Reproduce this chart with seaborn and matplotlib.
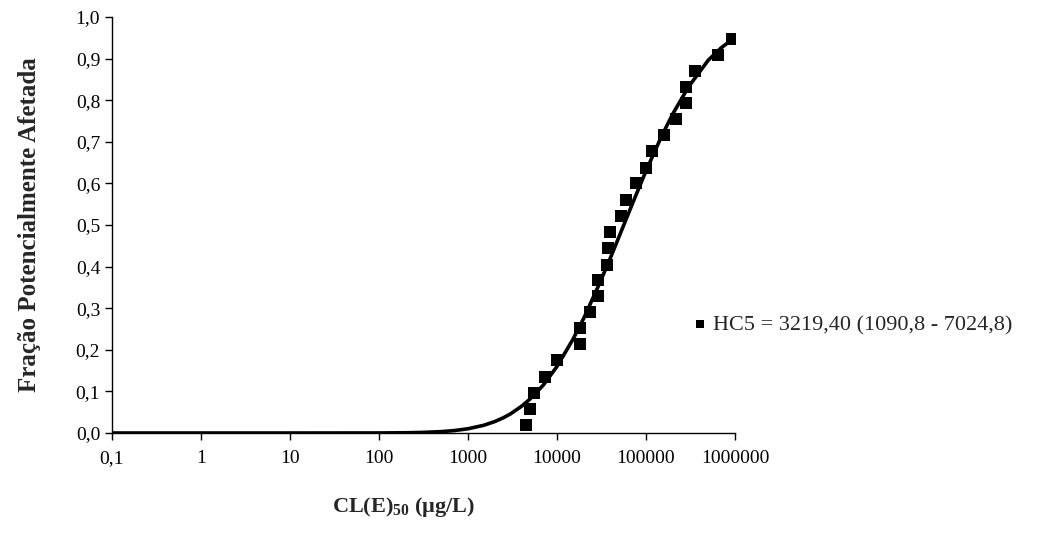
import matplotlib
matplotlib.use("Agg")
import matplotlib.pyplot as plt
import seaborn as sns
import pandas as pd
from matplotlib.ticker import FixedLocator, FuncFormatter

# pontos observados (CL(E)50 em ug/L, fracao acumulada)
conc = [4490, 4980, 5520, 7340, 9930, 18100, 18100, 23500, 29200, 29200,
        36800, 37800, 39400, 52000, 60200, 76500, 101000, 116000, 159000,
        216000, 284000, 279000, 355000, 650000, 918000]
fracao = [0.019, 0.058, 0.095, 0.134, 0.175, 0.214, 0.252, 0.292, 0.329, 0.368,
          0.405, 0.444, 0.484, 0.522, 0.560, 0.600, 0.638, 0.678, 0.716,
          0.754, 0.793, 0.832, 0.870, 0.909, 0.946]

# curva ajustada
curva_x = [0.1, 1, 10, 100, 200, 300, 500, 700, 1000, 1500, 2000, 2500, 3000,
           4000, 5000, 7000, 10000, 15000, 20000, 30000, 40000, 50000, 70000,
           100000, 150000, 200000, 300000, 500000, 700000, 1000000]
curva_y = [0.0, 0.0, 0.0, 0.0001, 0.0006, 0.0013, 0.0033, 0.0058, 0.0102, 0.0185,
           0.0275, 0.0367, 0.0459, 0.0643, 0.082, 0.115, 0.160, 0.224, 0.276,
           0.359, 0.422, 0.473, 0.550, 0.630, 0.714, 0.767, 0.832, 0.896, 0.926,
           0.951]

xticks = [0.1, 1, 10, 100, 1000, 10000, 100000, 1000000]
xtick_labels = ["0,1", "1", "10", "100", "1000", "10000", "100000", "1000000"]
legenda = "HC5 = 3219,40 (1090,8 - 7024,8)"

sns.set_theme(style="white")
plt.rcParams["font.family"] = ["Liberation Serif", "DejaVu Serif"]
plt.rcParams["mathtext.default"] = "regular"

df_pts = pd.DataFrame({"conc": conc, "fracao": fracao})
df_curva = pd.DataFrame({"x": curva_x, "y": curva_y})

fig = plt.figure(figsize=(10.38, 5.36), dpi=100)
ax = fig.add_axes([112 / 1038, 1 - 433 / 536, (735 - 112) / 1038, (433 - 17) / 536])

sns.lineplot(data=df_curva, x="x", y="y", ax=ax, color="black", linewidth=2.6,
             zorder=2, legend=False)
sns.scatterplot(data=df_pts, x="conc", y="fracao", ax=ax, marker="s", s=64,
                color="black", linewidth=0, zorder=3, label=legenda)

ax.set_xscale("log")
ax.set_xlim(0.1, 1000000)
ax.set_ylim(0, 1.0)
ax.xaxis.set_major_locator(FixedLocator(xticks))
ax.set_xticklabels(xtick_labels)
ax.xaxis.set_minor_locator(FixedLocator([]))
ax.set_yticks([i / 10 for i in range(11)])
ax.yaxis.set_major_formatter(FuncFormatter(lambda v, p: f"{v:.1f}".replace(".", ",")))
ax.tick_params(axis="both", labelsize=14, colors="black", length=5, width=1,
               direction="out", bottom=True, left=True)
ax.tick_params(axis="x", pad=7)
ax.set_xlabel("")
ax.set_ylabel("")
sns.despine(ax=ax)
for s in ["left", "bottom"]:
    ax.spines[s].set_color("black")
    ax.spines[s].set_linewidth(1)

fig.text(30 / 1038, 1 - 225 / 536, "Fração Potencialmente Afetada", rotation=90,
         ha="center", va="center", fontsize=18, fontweight="bold")
fig.text(404 / 1038, 1 - 507 / 536, "CL(E)$_{50}$ (µg/L)", ha="center", va="center",
         fontsize=16, fontweight="bold")

ax.legend(loc="center left", bbox_to_anchor=(693 / 1038, 1 - 325 / 536),
          bbox_transform=fig.transFigure, frameon=False, fontsize=16,
          handlelength=0.6, handletextpad=0.3, borderpad=0, borderaxespad=0,
          markerscale=0.8)

fig.savefig("out.png", dpi=100)
